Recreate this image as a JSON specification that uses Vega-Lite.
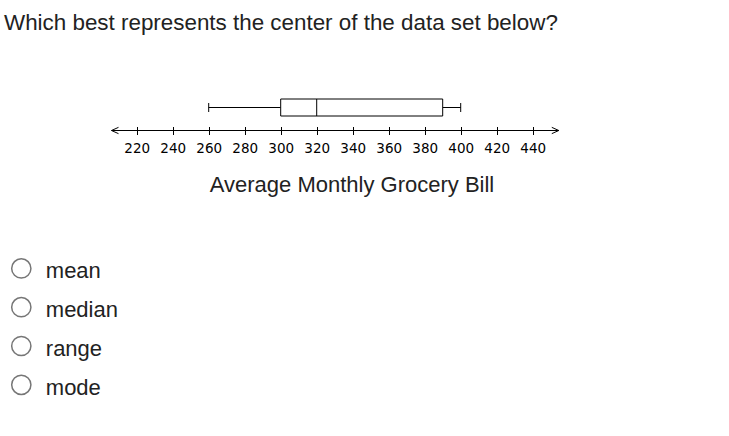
{
  "$schema": "https://vega.github.io/schema/vega-lite/v6.json",
  "padding": {"left": 0, "top": 11, "right": 0, "bottom": 0},
  "background": "white",
  "title": {
    "text": "Which best represents the center of the data set below?",
    "anchor": "start",
    "frame": "group",
    "font": "Liberation Sans",
    "fontSize": 22.4,
    "fontWeight": "normal",
    "color": "#222222",
    "dx": 4,
    "offset": 62
  },
  "datasets": {
    "summary": [{"min": 260, "q1": 300, "median": 320, "q3": 390, "max": 400}],
    "axisline": [{"start": 206, "end": 454.5}],
    "choices": [{"choice": "mean"}, {"choice": "median"}, {"choice": "range"}, {"choice": "mode"}]
  },
  "spacing": 54,
  "vconcat": [
    {
      "width": 703,
      "height": 46,
      "layer": [
        {
          "data": {"name": "axisline"},
          "mark": {"type": "rule", "color": "black", "strokeWidth": 1},
          "encoding": {
            "x": {
              "field": "start",
              "type": "quantitative",
              "scale": {"domain": [144.06, 534.61], "nice": false, "zero": false},
              "axis": {"values": [220, 240, 260, 280, 300, 320, 340, 360, 380, 400, 420, 440], "title": "Average Monthly Grocery Bill"}
            },
            "x2": {"field": "end"},
            "y": {"datum": "axis", "type": "nominal", "scale": {"domain": ["box", "axis"], "type": "band", "paddingInner": 0, "paddingOuter": 0}, "axis": null}
          }
        },
        {
          "data": {"name": "axisline"},
          "mark": {"type": "point", "shape": "M1,-0.45L0,0L1,0.45", "size": 196, "filled": false, "stroke": "black", "strokeWidth": 1, "opacity": 1},
          "encoding": {
            "x": {"field": "start", "type": "quantitative", "title": "Average Monthly Grocery Bill"},
            "y": {"datum": "axis", "type": "nominal", "axis": null}
          }
        },
        {
          "data": {"name": "axisline"},
          "mark": {"type": "point", "shape": "M-1,-0.45L0,0L-1,0.45", "size": 196, "filled": false, "stroke": "black", "strokeWidth": 1, "opacity": 1},
          "encoding": {
            "x": {"field": "end", "type": "quantitative", "title": "Average Monthly Grocery Bill"},
            "y": {"datum": "axis", "type": "nominal", "axis": null}
          }
        },
        {
          "data": {"name": "summary"},
          "mark": {"type": "rule", "color": "black", "strokeWidth": 1},
          "encoding": {
            "x": {"field": "min", "type": "quantitative", "title": "Average Monthly Grocery Bill"},
            "x2": {"field": "q1"},
            "y": {"datum": "box", "type": "nominal", "axis": null}
          }
        },
        {
          "data": {"name": "summary"},
          "mark": {"type": "rule", "color": "black", "strokeWidth": 1},
          "encoding": {
            "x": {"field": "q3", "type": "quantitative", "title": "Average Monthly Grocery Bill"},
            "x2": {"field": "max"},
            "y": {"datum": "box", "type": "nominal", "axis": null}
          }
        },
        {
          "data": {"name": "summary"},
          "mark": {"type": "bar", "fill": "white", "stroke": "black", "strokeWidth": 1, "size": 17},
          "encoding": {
            "x": {"field": "q1", "type": "quantitative", "title": "Average Monthly Grocery Bill"},
            "x2": {"field": "q3"},
            "y": {"datum": "box", "type": "nominal", "axis": null}
          }
        },
        {
          "data": {"name": "summary"},
          "mark": {"type": "tick", "color": "black", "thickness": 1, "size": 17, "opacity": 1},
          "encoding": {
            "x": {"field": "median", "type": "quantitative", "title": "Average Monthly Grocery Bill"},
            "y": {"datum": "box", "type": "nominal", "axis": null}
          }
        },
        {
          "data": {"name": "summary"},
          "mark": {"type": "tick", "color": "black", "thickness": 1, "size": 9, "opacity": 1},
          "encoding": {
            "x": {"field": "min", "type": "quantitative", "title": "Average Monthly Grocery Bill"},
            "y": {"datum": "box", "type": "nominal", "axis": null}
          }
        },
        {
          "data": {"name": "summary"},
          "mark": {"type": "tick", "color": "black", "thickness": 1, "size": 9, "opacity": 1},
          "encoding": {
            "x": {"field": "max", "type": "quantitative", "title": "Average Monthly Grocery Bill"},
            "y": {"datum": "box", "type": "nominal", "axis": null}
          }
        }
      ]
    },
    {
      "width": 42.6,
      "height": 155.2,
      "data": {"name": "choices"},
      "encoding": {
        "y": {"field": "choice", "type": "nominal", "sort": null, "scale": {"type": "point", "padding": 0.5}, "axis": null}
      },
      "layer": [
        {
          "mark": {"type": "point", "shape": "circle", "size": 370, "filled": false, "stroke": "#767676", "strokeWidth": 1.5, "opacity": 1}
        },
        {
          "mark": {"type": "text", "align": "left", "baseline": "alphabetic", "dx": 24.5, "dy": 10, "font": "Liberation Sans", "fontSize": 22, "color": "#222222"},
          "encoding": {"text": {"field": "choice"}}
        }
      ]
    }
  ],
  "config": {
    "view": {"stroke": null},
    "axisX": {
      "domain": false,
      "grid": false,
      "tickSize": 8,
      "tickColor": "black",
      "tickWidth": 1,
      "offset": -15.5,
      "labelFont": "DejaVu Sans",
      "labelFontSize": 13.5,
      "labelColor": "#000000",
      "labelPadding": 7,
      "labelFlush": false,
      "labelOverlap": false,
      "titleFont": "Liberation Sans",
      "titleFontSize": 22,
      "titleFontWeight": "normal",
      "titleColor": "#222222",
      "titlePadding": 19
    }
  }
}
